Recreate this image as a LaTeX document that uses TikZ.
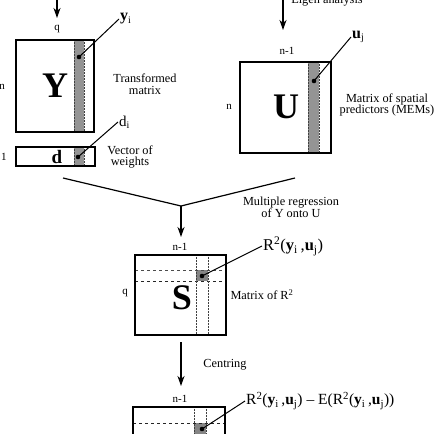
\documentclass[tikz,border=0pt]{standalone}
\usepackage{fontspec}
\setmainfont{Liberation Serif}
\usetikzlibrary{arrows.meta}
\begin{document}
\begin{tikzpicture}[x=1pt,y=-1pt,
	box/.style={line width=1.3pt},
	stripe/.style={fill=black!42},
	edge/.style={line width=0.5pt,densely dotted,black!75},
	grid/.style={line width=0.7pt,dashed,black!85},
	pointer/.style={line width=1pt},
	flow/.style={line width=1.2pt,-{Stealth[length=10pt,width=7pt,inset=3pt]}},
	txt/.style={font=\fontsize{12.3}{11.8}\selectfont,align=center,inner sep=0pt},
	dim/.style={font=\fontsize{11}{11}\selectfont,inner sep=0pt},
	big/.style={font=\fontsize{36}{36}\selectfont\bfseries,inner sep=0pt},
	lab/.style={font=\fontsize{16}{16}\selectfont,anchor=west,inner sep=1pt}]
	\useasboundingbox (0,0) rectangle (434,434);
	%matrix Y
	\fill[stripe] (74,40) rectangle (84,132);
	\draw[edge] (74,40) -- (74,132);
	\draw[edge] (84,40) -- (84,132);
	\draw[box] (16,40) rectangle (94,132);
	\node[big](Ym) at (55,86) {Y};
	\node[dim](q1) at (57,29) {q};
	\node[dim](n1) at (2,87) {n};
	\node[txt](trans) at (145,84) {Transformed\\matrix};
	\coordinate (yidot) at (79,57);
	\fill (yidot) circle (2.3pt);
	\node[lab](yi) at (119,19) {\textbf{y}\textsubscript{\fontsize{10}{10}\selectfont i}};
	\draw[pointer] (yidot) -- (yi.west);
	%vector d
	\fill[stripe] (74,147) rectangle (84,166);
	\draw[edge] (74,147) -- (74,166);
	\draw[edge] (84,147) -- (84,166);
	\draw[box] (16,147) rectangle (95,166);
	\node[font=\fontsize{19}{19}\selectfont\bfseries,inner sep=0pt](dv) at (57,157) {d};
	\node[dim](one) at (4,157) {1};
	\node[txt](weights) at (130,157) {Vector of\\weights};
	\coordinate (didot) at (78,157);
	\fill (didot) circle (2.3pt);
	\node[lab,font=\fontsize{15}{15}\selectfont](di) at (118,122) {d\textsubscript{\fontsize{10}{10}\selectfont i}};
	\draw[pointer] (didot) -- (di.west);
	%matrix U
	\fill[stripe] (308,62) rectangle (319,153);
	\draw[edge] (308,62) -- (308,153);
	\draw[edge] (319,62) -- (319,153);
	\draw[box] (240,62) rectangle (331,153);
	\node[big](Um) at (286,107) {U};
	\node[dim](n2) at (287,51) {n-1};
	\node[dim](n3) at (229,107) {n};
	\node[txt](mems) at (387,105) {Matrix of spatial\\predictors (MEMs)};
	\coordinate (ujdot) at (314,81);
	\fill (ujdot) circle (2.3pt);
	\node[lab](uj) at (351,37) {\textbf{u}\textsubscript{\fontsize{10}{10}\selectfont j}};
	\draw[pointer] (ujdot) -- (uj.west);
	%arrows from top
	\coordinate (ytop) at (57,-5);
	\coordinate (yend) at (57,18);
	\draw[flow] (ytop) -- (yend);
	\coordinate (utop) at (283,-5);
	\coordinate (uend) at (283,30);
	\draw[flow] (utop) -- (uend);
	\node[txt,anchor=base](eigen) at (327,3.5) {Eigen analysis};
	%regression
	\coordinate (yleg) at (63,178);
	\coordinate (uleg) at (295,178);
	\coordinate (join) at (181,206);
	\coordinate (send) at (181,237);
	\draw[line width=1.2pt] (yleg) -- (join) -- (uleg);
	\draw[flow] (join) -- (send);
	\node[txt](regr) at (291,207) {Multiple regression\\of Y onto U};
	%matrix S
	\fill[black!48] (196,270) rectangle (208,281);
	\draw[grid,black!70,line width=0.5pt] (135,270) -- (226,270);
	\draw[grid] (135,281) -- (226,281);
	\draw[edge] (196,255) -- (196,335);
	\draw[edge] (208,255) -- (208,335);
	\draw[box] (135,255) rectangle (226,335);
	\node[big](Sm) at (182,298) {S};
	\node[dim](n4) at (180,247) {n-1};
	\node[dim](q2) at (125,293) {q};
	\node[txt](rmat) at (262,295) {Matrix of R\textsuperscript{2}};
	\coordinate (rdot) at (202,276);
	\fill (rdot) circle (2.3pt);
	\node[lab,font=\fontsize{16.5}{16.5}\selectfont](rlab) at (262,246) {R\textsuperscript{2}(\textbf{y}\textsubscript{i}\,,\textbf{u}\textsubscript{j})};
	\draw[pointer] (rdot) -- (rlab.west);
	%centring
	\coordinate (ctop) at (181,342);
	\coordinate (cend) at (181,386);
	\draw[flow] (ctop) -- (cend);
	\node[txt](centr) at (225,365) {Centring};
	%centred matrix
	\fill[black!48] (194,423) rectangle (206,440);
	\draw[grid] (133,423) -- (225,423);
	\draw[edge] (194,407) -- (194,440);
	\draw[edge] (206,407) -- (206,440);
	\draw[box] (133,445) -- (133,407) -- (225,407) -- (225,445);
	\node[dim](n5) at (180,399) {n-1};
	\coordinate (cdot) at (202,429);
	\fill (cdot) circle (2.3pt);
	\node[lab,font=\fontsize{15.5}{15.5}\selectfont](clab) at (245,401) {R\textsuperscript{2}(\textbf{y}\textsubscript{i}\,,\textbf{u}\textsubscript{j}) -- E(R\textsuperscript{2}(\textbf{y}\textsubscript{i}\,,\textbf{u}\textsubscript{j}))};
	\draw[pointer] (cdot) -- (clab.west);
\end{tikzpicture}
\end{document}
